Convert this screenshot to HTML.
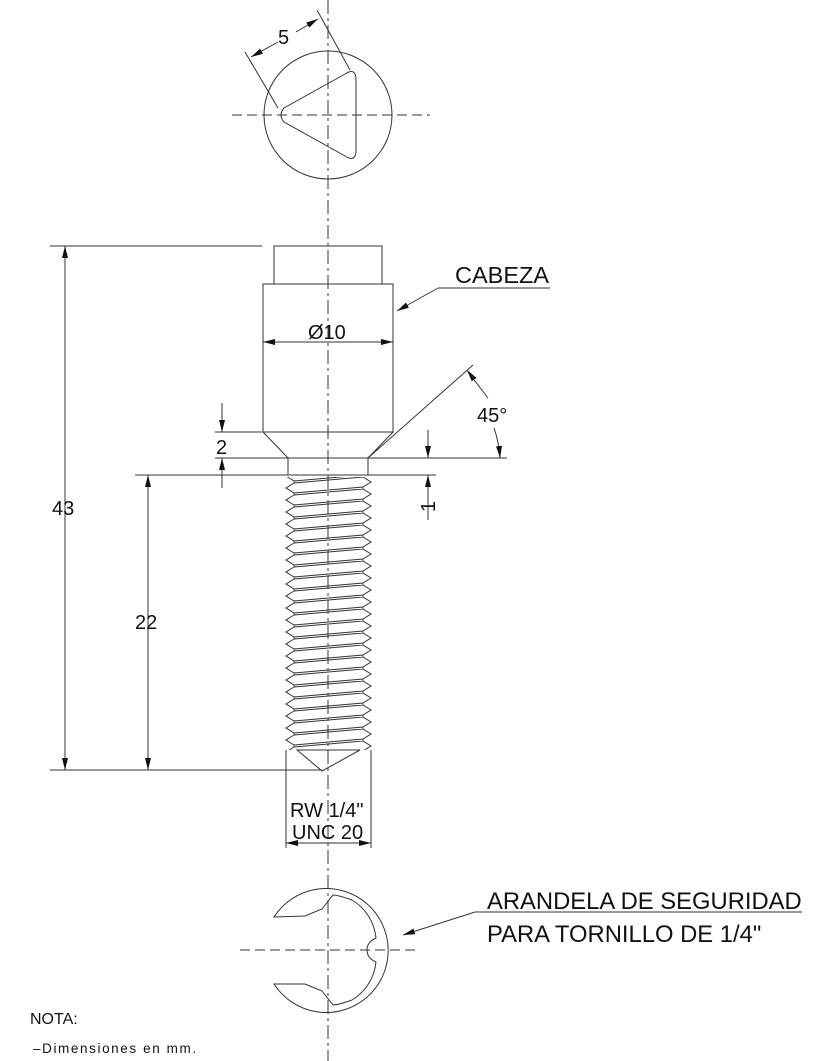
<!DOCTYPE html>
<html><head><meta charset="utf-8"><style>
html,body{margin:0;padding:0;background:#fff}
svg{display:block}
text{font-family:"Liberation Sans",Arial,sans-serif;fill:#111}
</style></head><body>
<svg width="838" height="1061" viewBox="0 0 838 1061" xmlns="http://www.w3.org/2000/svg">
<defs>
<marker id="a" viewBox="0 0 12 6" refX="12" refY="3" markerWidth="12" markerHeight="6" orient="auto-start-reverse" markerUnits="userSpaceOnUse"><path d="M0,0 L12,3 L0,6 z" fill="#111"/></marker>
<pattern id="th" patternUnits="userSpaceOnUse" x="0" y="477" width="838" height="12">
<path d="M294,6 L286,11 L294,16 M294,-6 L286,-1 L294,4 L294,6 M294,6 L363,0 M294,16 L363,10 M294,4 L363,-2 M363,0 L371,5 L363,10 L363,12 M363,12 L371,17 M363,-2 L363,0" fill="none" stroke="#333" stroke-width="1"/>
</pattern>
</defs>
<g stroke="#333" stroke-width="1" fill="none">
<line x1="328" y1="0" x2="328" y2="1061" stroke-dasharray="14,4,3,4"/>
<line x1="232" y1="115" x2="430" y2="115" stroke-dasharray="10,5"/>
<line x1="240" y1="950" x2="420" y2="950" stroke-dasharray="10,5"/>
<circle cx="328" cy="115" r="64"/>
<path d="M284,108 Q278,115 284,122 L345,156 Q356,163 356,150 L356,80 Q356,67 345,74 Z"/>
<line x1="245" y1="52" x2="278" y2="108"/>
<line x1="317" y1="10" x2="350" y2="70"/>
<line x1="251" y1="57" x2="278" y2="42" marker-start="url(#a)"/>
<line x1="296" y1="32" x2="318" y2="19" marker-end="url(#a)"/>
<rect x="274" y="246" width="108" height="38"/>
<rect x="263" y="284" width="130" height="148"/>
<path d="M263,432 L288,458 L368,458 L393,432"/>
<path d="M288,458 L288,475 M368,458 L368,475"/>
<rect x="284" y="477" width="89" height="273" fill="url(#th)" stroke="none"/>
<line x1="286" y1="475" x2="371" y2="475"/>
<path d="M297,750 L322,771 L360,750 Z"/>
<line x1="286" y1="750" x2="286" y2="848"/>
<line x1="371" y1="750" x2="371" y2="848"/>
<line x1="286" y1="843" x2="371" y2="843" marker-start="url(#a)" marker-end="url(#a)"/>
<line x1="263" y1="342" x2="393" y2="342" marker-start="url(#a)" marker-end="url(#a)"/>
<line x1="50" y1="246" x2="262" y2="246"/>
<line x1="50" y1="770" x2="322" y2="770"/>
<line x1="65" y1="246" x2="65" y2="770" marker-start="url(#a)" marker-end="url(#a)"/>
<line x1="135" y1="475" x2="436" y2="475"/>
<line x1="148" y1="475" x2="148" y2="770" marker-start="url(#a)" marker-end="url(#a)"/>
<line x1="215" y1="432" x2="262" y2="432"/>
<line x1="215" y1="458" x2="507" y2="458"/>
<line x1="222" y1="403" x2="222" y2="432" marker-end="url(#a)"/>
<line x1="222" y1="488" x2="222" y2="458" marker-end="url(#a)"/>
<line x1="428" y1="430" x2="428" y2="458" marker-end="url(#a)"/>
<line x1="428" y1="520" x2="428" y2="475" marker-end="url(#a)"/>
<line x1="368" y1="458" x2="473" y2="365"/>
<line x1="468" y1="372" x2="488" y2="398" />
<line x1="470" y1="374" x2="467" y2="370" marker-end="url(#a)"/>
<path d="M494,428 Q499,442 500,458" />
<line x1="499" y1="446" x2="500" y2="458" marker-end="url(#a)"/>
<line x1="438" y1="288" x2="550" y2="288"/>
<line x1="438" y1="288" x2="397" y2="311" marker-end="url(#a)"/>
<path d="M274,917 A62,62 0 1 1 274,984 L305,984 L322,991 L333,1005 Q338,1005 352,1000 A50,50 0 0 0 376,962 Q367,958 367,950 Q367,942 376,938 A50,50 0 0 0 352,900 Q338,895 333,895 L322,909 L305,916 Z"/>
<line x1="475" y1="912" x2="802" y2="912"/>
<line x1="475" y1="912" x2="403" y2="935" marker-end="url(#a)"/>
</g>
<g font-size="20">
<text x="278" y="44">5</text>
<text x="308" y="339">Ø10</text>
<text x="455" y="283" font-size="23.5">CABEZA</text>
<text x="477" y="422">45°</text>
<text x="216" y="454">2</text>
<text x="0" y="0" transform="translate(435,512) rotate(-90)">1</text>
<text x="52" y="515">43</text>
<text x="135" y="629">22</text>
<text x="290" y="817">RW 1/4"</text>
<text x="292" y="839">UNC 20</text>
<text x="487" y="909" font-size="23.8">ARANDELA DE SEGURIDAD</text>
<text x="487" y="942" font-size="23.8">PARA TORNILLO DE 1/4"</text>
<text x="30" y="1024" font-size="16">NOTA:</text>
<text x="33" y="1053" font-size="13.5" letter-spacing="1.6" fill="#444">–Dimensiones en mm.</text>
</g>
</svg>
</body></html>
